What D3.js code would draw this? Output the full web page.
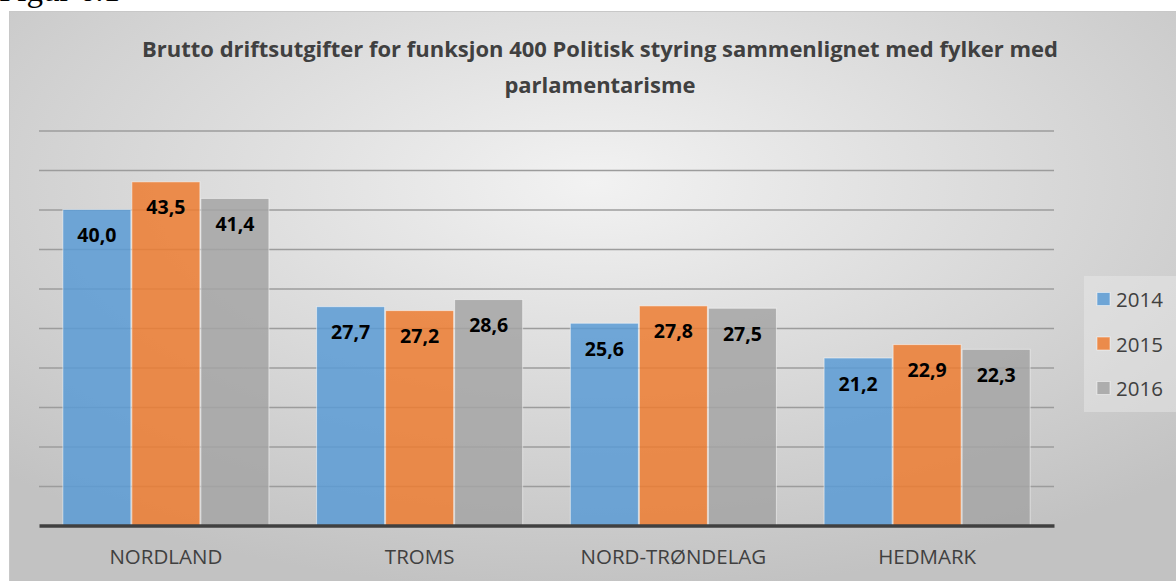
<!DOCTYPE html>
<html>
<head>
<meta charset="utf-8">
<script src="https://cdn.jsdelivr.net/npm/d3@7"></script>
<style>
  html, body { margin: 0; padding: 0; background: #fff; }
  svg { display: block; }
</style>
</head>
<body>
<div id="chart"></div>
<script>
// data
const categories = ["NORDLAND", "TROMS", "NORD-TRØNDELAG", "HEDMARK"];
const years = ["2014", "2015", "2016"];
const v2014 = [40.0, 27.7, 25.6, 21.2];
const v2015 = [43.5, 27.2, 27.8, 22.9];
const v2016 = [41.4, 28.6, 27.5, 22.3];
const colors = ["#5b9bd5", "#ed7d31", "#a5a5a5"];
const titleLines = [
    "Brutto driftsutgifter for funksjon 400 Politisk styring sammenlignet med fylker med",
    "parlamentarisme"
];
const figLabel = "Figur 6.1";

const seriesVals = [v2014, v2015, v2016];
const data = categories.map((c, i) => ({
    cat: c,
    values: years.map((y, j) => ({ year: y, value: seriesVals[j][i], color: colors[j] }))
}));

const W = 1176, H = 581;
const plot = { left: 39, right: 1054, top: 130.5, bottom: 525.5 };
const font = "'Open Sans', sans-serif";

const svg = d3.select("#chart").append("svg")
    .attr("width", W).attr("height", H);

// figure caption, mostly cut off at the top (as in the source page)
svg.append("text")
    .attr("x", -1).attr("y", 1)
    .style("font-family", "'Liberation Serif', serif")
    .style("font-size", "33px")
    .attr("fill", "#000")
    .text(figLabel);

// background
const defs = svg.append("defs");
const grad = defs.append("radialGradient")
    .attr("id", "bg")
    .attr("cx", "50%").attr("cy", "30%").attr("r", "72%");
grad.append("stop").attr("offset", "0%").attr("stop-color", "#f2f2f2");
grad.append("stop").attr("offset", "100%").attr("stop-color", "#c2c2c2");

svg.append("rect")
    .attr("x", 9.5).attr("y", 11.5)
    .attr("width", W - 9).attr("height", H - 11)
    .attr("fill", "url(#bg)")
    .attr("stroke", "#c8c8c8").attr("stroke-width", 1);

// title
const title = svg.append("text")
    .attr("text-anchor", "middle")
    .style("font-family", font)
    .style("font-weight", "bold")
    .style("font-size", "20px")
    .attr("fill", "#404040");
title.selectAll("tspan").data(titleLines).enter().append("tspan")
    .attr("x", 600)
    .attr("y", (d, i) => 57 + i * 36)
    .text(d => d);
// fit first line to the width it has in the source (~916px)
const tw = title.select("tspan").node().getComputedTextLength();
if (tw > 0) title.style("font-size", (20 * 916 / tw).toFixed(2) + "px");

// scales
const x0 = d3.scaleBand().domain(categories).range([plot.left, plot.right]);
const gap = x0.bandwidth() * 0.184;
const x1 = d3.scaleBand().domain(years).range([gap / 2, x0.bandwidth() - gap / 2]);
const y = d3.scaleLinear().domain([0, 50]).range([plot.bottom, plot.top]);

// gridlines
const grid = svg.append("g")
    .call(d3.axisLeft(y).ticks(10).tickSize(-(plot.right - plot.left)).tickFormat(""))
    .attr("transform", `translate(${plot.left},0)`);
grid.select(".domain").remove();
grid.selectAll(".tick line").attr("stroke", "#9c9c9c").attr("stroke-width", 1.3);
grid.selectAll(".tick").filter(d => d === 0).remove();

// bars
const groups = svg.selectAll(".cat").data(data).enter().append("g")
    .attr("class", "cat")
    .attr("transform", d => `translate(${x0(d.cat)},0)`);

groups.selectAll("rect").data(d => d.values).enter().append("rect")
    .attr("x", d => x1(d.year) + 0.5)
    .attr("width", x1.bandwidth() - 1)
    .attr("y", d => y(d.value))
    .attr("height", d => y(0) - y(d.value))
    .attr("fill", d => d.color)
    .attr("fill-opacity", 0.85)
    .attr("stroke", "#ffffff")
    .attr("stroke-opacity", 0.5)
    .attr("stroke-width", 1);

groups.selectAll("text.val").data(d => d.values).enter().append("text")
    .attr("class", "val")
    .attr("x", d => x1(d.year) + x1.bandwidth() / 2)
    .attr("y", d => y(d.value) + 32.5)
    .attr("text-anchor", "middle")
    .style("font-family", font)
    .style("font-weight", "bold")
    .style("font-size", "19.5px")
    .attr("fill", "#000")
    .text(d => d3.format(".1f")(d.value).replace(".", ","));

// x axis
const xAxis = svg.append("g")
    .attr("transform", `translate(0,${plot.bottom})`)
    .call(d3.axisBottom(x0).tickSize(0).tickPadding(38.5));
xAxis.select(".domain").attr("stroke", "#404040").attr("stroke-width", 3.5);
xAxis.selectAll(".tick text")
    .style("font-family", font)
    .style("font-size", "20.5px")
    .attr("fill", "#404040")
    .attr("dy", 0);

// legend
const legend = svg.append("g");
legend.append("rect")
    .attr("x", 1084).attr("y", 276)
    .attr("width", W - 1084).attr("height", 136)
    .attr("fill", "#ececec").attr("fill-opacity", 0.45);
const li = legend.selectAll(".li").data(years).enter().append("g")
    .attr("transform", (d, i) => `translate(1097,${299 + i * 44.5})`);
li.append("rect")
    .attr("x", 0).attr("y", -6.5).attr("width", 13).attr("height", 13)
    .attr("fill", (d, i) => colors[i]).attr("fill-opacity", 0.85)
    .attr("stroke", "#fff").attr("stroke-opacity", 0.5);
li.append("text")
    .attr("x", 19).attr("y", 8)
    .style("font-family", font)
    .style("font-size", "20.5px")
    .attr("fill", "#404040")
    .text(d => d);
</script>
</body>
</html>
